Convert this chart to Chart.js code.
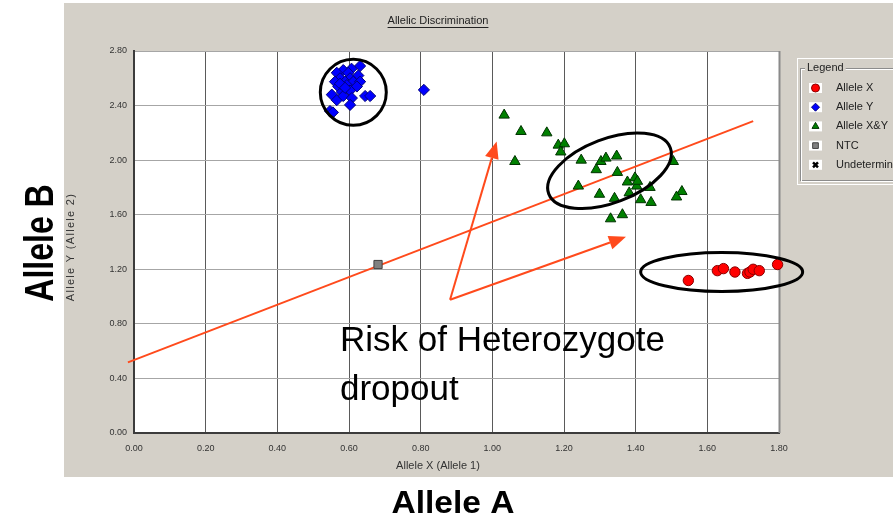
<!DOCTYPE html>
<html>
<head>
<meta charset="utf-8">
<script src="https://cdn.jsdelivr.net/npm/chart.js@4/dist/chart.umd.min.js"></script>
<style>
  html, body { margin: 0; padding: 0; background: #ffffff; overflow: hidden; }
  #wrap { position: relative; width: 893px; height: 525px; }
</style>
</head>
<body>
<div id="wrap"><canvas id="c" width="893" height="525"></canvas></div>
<script>
// ---- Allelic discrimination calls (x = Allele 1 signal, y = Allele 2 signal) ----
const alleleXCallsA = [1.547, 1.628, 1.645, 1.677, 1.712, 1.719, 1.728, 1.745, 1.796];
const alleleXCallsB = [1.118, 1.190, 1.205, 1.180, 1.170, 1.180, 1.200, 1.190, 1.235];

const alleleYCallsA = [0.631, 0.607, 0.584, 0.566, 0.598, 0.626, 0.575, 0.603, 0.561, 0.589,
                       0.612, 0.631, 0.570, 0.594, 0.622, 0.580, 0.603, 0.552, 0.566, 0.584,
                       0.608, 0.645, 0.659, 0.603, 0.547, 0.555, 0.575, 0.589, 0.809];
const alleleYCallsB = [2.690, 2.670, 2.660, 2.640, 2.640, 2.620, 2.600, 2.600, 2.575, 2.575,
                       2.575, 2.575, 2.540, 2.550, 2.540, 2.500, 2.510, 2.480, 2.440, 2.470,
                       2.455, 2.470, 2.470, 2.405, 2.360, 2.350, 2.560, 2.530, 2.515];

const heteroCallsA = [1.033, 1.080, 1.152, 1.184, 1.201, 1.191, 1.063, 1.248, 1.303, 1.317,
                      1.347, 1.290, 1.349, 1.240, 1.299, 1.341, 1.377, 1.398, 1.403, 1.405,
                      1.382, 1.414, 1.440, 1.443, 1.505, 1.529, 1.514, 1.330, 1.363];
const heteroCallsB = [2.330, 2.210, 2.200, 2.110, 2.120, 2.060, 1.990, 2.000, 1.990, 2.015,
                      2.030, 1.930, 1.910, 1.810, 1.750, 1.720, 1.840, 1.870, 1.810, 1.845,
                      1.760, 1.710, 1.800, 1.690, 1.990, 1.770, 1.730, 1.570, 1.600];

const ntcCallsA = [0.681];
const ntcCallsB = [1.235];

const undeterminedA = [];
const undeterminedB = [];

// Axis ticks
const tickValuesA = [0, 0.2, 0.4, 0.6, 0.8, 1.0, 1.2, 1.4, 1.6, 1.8];
const tickValuesB = [0, 0.4, 0.8, 1.2, 1.6, 2.0, 2.4, 2.8];

// Hand-drawn overlay: cut-off line, arrows and cluster rings (data units)
const cutoffA = [-0.017, 1.728];
const cutoffB = [0.518, 2.286];
const arrowBase = [0.882, 0.977];
const arrowTipsA = [1.012, 1.373];
const arrowTipsB = [2.136, 1.438];
const ringCentersA = [0.612, 1.327, 1.640];
const ringCentersB = [2.497, 1.922, 1.180];

const annotationLines = ['Risk of Heterozygote', 'dropout'];

// ---- styles ----
const ringShapes = [
  { rx: 33, ry: 33, tilt: 0 },
  { rx: 65, ry: 32, tilt: -20.8 },
  { rx: 81, ry: 19.5, tilt: 0 }
];
const PANEL = '#d4d0c8';
const ACCENT = '#ff4a1c';
const SANS = '"Liberation Sans", Arial, sans-serif';

const pairs = (a, b) => a.map((v, i) => ({ x: v, y: b[i] }));

const datasets = [
  { label: 'Allele X', data: pairs(alleleXCallsA, alleleXCallsB), pointStyle: 'circle', pointRadius: 5.2,
    backgroundColor: '#ff0000', borderColor: '#8a0000', borderWidth: 1, clip: false },
  { label: 'Allele Y', data: pairs(alleleYCallsA, alleleYCallsB), pointStyle: 'rectRot', pointRadius: 5.6,
    backgroundColor: '#0000ff', borderColor: '#00007a', borderWidth: 1, clip: false },
  { label: 'Allele X&Y', data: pairs(heteroCallsA, heteroCallsB), pointStyle: 'triangle', pointRadius: 6,
    backgroundColor: '#008000', borderColor: '#003300', borderWidth: 1, clip: false },
  { label: 'NTC', data: pairs(ntcCallsA, ntcCallsB), pointStyle: 'rect', pointRadius: 5.8,
    backgroundColor: '#808080', borderColor: '#404040', borderWidth: 1, clip: false },
  { label: 'Undetermined', data: pairs(undeterminedA, undeterminedB), pointStyle: 'crossRot', pointRadius: 5,
    backgroundColor: '#000000', borderColor: '#000000', borderWidth: 2.5 },
  { label: '', isOverlay: true, data: pairs(cutoffA, cutoffB), showLine: true, pointRadius: 0,
    borderColor: ACCENT, borderWidth: 2, clip: false }
];

const panelPlugin = {
  id: 'panel',
  beforeDraw(chart) {
    const { ctx, chartArea: a } = chart;
    ctx.save();
    ctx.fillStyle = PANEL;
    ctx.fillRect(64, 3, 893 - 64, 477 - 3);
    ctx.fillStyle = '#ffffff';
    ctx.fillRect(a.left, a.top, a.right - a.left, a.bottom - a.top);
    ctx.restore();
  },
  beforeDatasetsDraw(chart) {
    const { ctx, chartArea: a } = chart;
    // right edge shadow of the plot frame
    ctx.save();
    ctx.strokeStyle = '#8a8a8a';
    ctx.lineWidth = 2;
    ctx.beginPath();
    ctx.moveTo(a.right + 0.5, a.top);
    ctx.lineTo(a.right + 0.5, a.bottom);
    ctx.stroke();
    ctx.restore();
  },
  afterDatasetsDraw(chart) {
    const { ctx, scales: { x, y } } = chart;
    ctx.save();
    // cluster rings
    ctx.strokeStyle = '#000000';
    ctx.lineWidth = 3;
    ringCentersA.forEach((cx, i) => {
      const s = ringShapes[i];
      ctx.beginPath();
      ctx.ellipse(x.getPixelForValue(cx), y.getPixelForValue(ringCentersB[i]), s.rx, s.ry,
        s.tilt * Math.PI / 180, 0, Math.PI * 2);
      ctx.stroke();
    });
    // arrows
    const bx = x.getPixelForValue(arrowBase[0]);
    const by = y.getPixelForValue(arrowBase[1]);
    ctx.strokeStyle = ACCENT;
    ctx.fillStyle = ACCENT;
    ctx.lineWidth = 2;
    arrowTipsA.forEach((ta, i) => {
      const tx = x.getPixelForValue(ta);
      const ty = y.getPixelForValue(arrowTipsB[i]);
      const ang = Math.atan2(ty - by, tx - bx);
      const len = 17, half = 7;
      const hx = tx - Math.cos(ang) * len, hy = ty - Math.sin(ang) * len;
      ctx.beginPath();
      ctx.moveTo(bx, by);
      ctx.lineTo(hx, hy);
      ctx.stroke();
      ctx.beginPath();
      ctx.moveTo(tx, ty);
      ctx.lineTo(hx + Math.sin(ang) * half, hy - Math.cos(ang) * half);
      ctx.lineTo(hx - Math.sin(ang) * half, hy + Math.cos(ang) * half);
      ctx.closePath();
      ctx.fill();
    });
    // annotation text
    ctx.fillStyle = '#000000';
    ctx.font = '35px ' + SANS;
    ctx.textAlign = 'left';
    ctx.textBaseline = 'alphabetic';
    annotationLines.forEach((t, i) => ctx.fillText(t, 340, 351 + i * 49));
    ctx.restore();
  },
  afterDraw(chart) {
    const { ctx } = chart;
    ctx.save();

    // chart title
    ctx.fillStyle = '#222222';
    ctx.font = '11px ' + SANS;
    ctx.textAlign = 'center';
    ctx.textBaseline = 'middle';
    const title = 'Allelic Discrimination';
    ctx.fillText(title, 438, 21);
    const tw = ctx.measureText(title).width;
    ctx.fillRect(438 - tw / 2, 27, tw, 1);

    // axis titles
    ctx.fillStyle = '#333333';
    ctx.fillText('Allele X (Allele 1)', 438, 466);
    ctx.save();
    ctx.translate(71, 247);
    ctx.rotate(-Math.PI / 2);
    ctx.letterSpacing = '1.3px';
    ctx.fillText('Allele Y (Allele 2)', 0, 0);
    ctx.restore();

    // large outer axis labels
    ctx.fillStyle = '#000000';
    ctx.textBaseline = 'alphabetic';
    ctx.save();
    ctx.translate(453, 513);
    ctx.scale(1.05, 1);
    ctx.font = 'bold 32px ' + SANS;
    ctx.fillText('Allele A', 0, 0);
    ctx.restore();
    ctx.save();
    ctx.translate(53, 243);
    ctx.rotate(-Math.PI / 2);
    ctx.scale(0.78, 1);
    ctx.font = 'bold 41px ' + SANS;
    ctx.fillText('Allele B', 0, 0);
    ctx.restore();

    // legend group box
    const gx = 800, gy = 68, gw = 120, gh = 112;
    ctx.strokeStyle = '#ffffff';
    ctx.lineWidth = 1;
    ctx.strokeRect(797.5, 58.5, 120, 126);
    ctx.strokeStyle = '#8c8c8c';
    ctx.strokeRect(gx + 0.5, gy + 0.5, gw, gh);
    ctx.strokeStyle = '#ffffff';
    ctx.strokeRect(gx + 1.5, gy + 1.5, gw, gh);
    ctx.font = '11px ' + SANS;
    ctx.textAlign = 'left';
    ctx.textBaseline = 'middle';
    const lt = 'Legend';
    const lw = ctx.measureText(lt).width;
    ctx.fillStyle = PANEL;
    ctx.fillRect(gx + 5, gy - 4, lw + 4, 9);
    ctx.fillStyle = '#222222';
    ctx.fillText(lt, gx + 7, gy);

    chart.data.datasets.filter(d => !d.isOverlay).forEach((d, i) => {
      const cy = 88 + i * 19.2;
      ctx.fillStyle = '#ffffff';
      ctx.fillRect(809, cy - 5, 13, 10);
      ctx.fillStyle = d.backgroundColor;
      ctx.strokeStyle = d.borderColor;
      ctx.lineWidth = d.pointStyle === 'crossRot' ? 2.5 : 1;
      Chart.helpers.drawPoint(ctx, {
        pointStyle: d.pointStyle,
        radius: d.pointStyle === 'crossRot' ? 3.5 : 4,
        rotation: 0,
        borderWidth: ctx.lineWidth
      }, 815.5, cy);
      ctx.fillStyle = '#222222';
      ctx.fillText(d.label, 836, cy);
    });
    ctx.restore();
  }
};

new Chart(document.getElementById('c'), {
  type: 'scatter',
  data: { datasets },
  options: {
    responsive: false,
    animation: false,
    devicePixelRatio: 1,
    layout: { padding: { left: 65, top: 51, right: 114, bottom: 48 } },
    plugins: { legend: { display: false }, title: { display: false }, tooltip: { enabled: false } },
    scales: {
      x: {
        type: 'linear', min: 0, max: 1.8,
        afterBuildTicks: s => { s.ticks = tickValuesA.map(v => ({ value: v })); },
        afterFit: s => { s.height = 44; },
        ticks: { callback: v => Number(v).toFixed(2), color: '#333333', font: { size: 9, family: SANS },
                 padding: 10, maxRotation: 0, autoSkip: false },
        grid: { color: '#5a5a5a', lineWidth: 1, drawTicks: false },
        border: { color: '#3c3c3c', width: 2 }
      },
      y: {
        type: 'linear', min: 0, max: 2.8,
        afterBuildTicks: s => { s.ticks = tickValuesB.map(v => ({ value: v })); },
        afterFit: s => { s.width = 69; },
        ticks: { callback: v => Number(v).toFixed(2), color: '#333333', font: { size: 9, family: SANS },
                 padding: 7, autoSkip: false },
        grid: { color: '#a6a6a6', lineWidth: 1, drawTicks: false },
        border: { color: '#3c3c3c', width: 2 }
      }
    }
  },
  plugins: [panelPlugin]
});
</script>
</body>
</html>
